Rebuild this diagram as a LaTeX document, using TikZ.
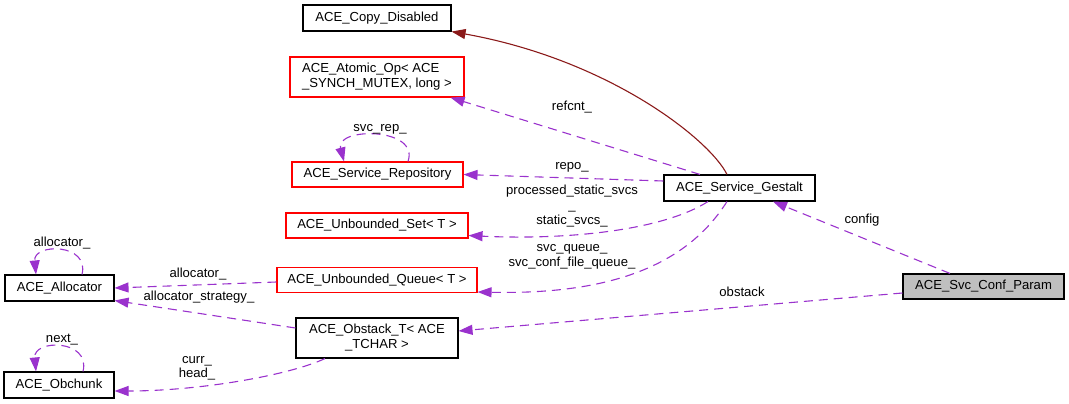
\documentclass[tikz,border=0pt]{standalone}
\usepackage{fontspec}
\setmainfont{Liberation Sans}
\usetikzlibrary{arrows.meta}
\definecolor{edgep}{HTML}{9A32CD}
\definecolor{inhc}{HTML}{8B1A1A}
\definecolor{grayfill}{HTML}{BFBFBF}
\begin{document}
\begin{tikzpicture}[x=1pt,y=-1pt,
  font=\fontsize{13.1}{15}\selectfont,
  box/.style={draw=black, line width=1.1pt, inner sep=0pt, minimum height=26pt, fill=white},
  redbox/.style={box, draw=red},
  use/.style={draw=edgep, line width=1.1pt, dash pattern=on 9pt off 6pt, -{Triangle[length=14pt,width=10pt]}},
  inh/.style={draw=inhc, line width=1.1pt, -{Triangle[length=14pt,width=10pt]}},
  lbl/.style={inner sep=0pt, align=center, font=\fontsize{13.1}{14.5}\selectfont},
]
\useasboundingbox (0,0) rectangle (1069,404);

% nodes
\node[box, minimum width=148pt] (copy) at (377,18) {ACE\_Copy\_Disabled};
\node[redbox, minimum width=174pt, minimum height=40pt, align=left] (atomic) at (377,77) {ACE\_Atomic\_Op< ACE\\\_SYNCH\_MUTEX, long >};
\node[redbox, minimum width=171pt, minimum height=25pt] (repo) at (377.5,174.5) {ACE\_Service\_Repository};
\node[redbox, minimum width=182pt, minimum height=25pt] (set) at (377,225.5) {ACE\_Unbounded\_Set< T >};
\node[redbox, minimum width=200pt, minimum height=25pt] (queue) at (377,280) {ACE\_Unbounded\_Queue< T >};
\node[box, minimum width=162pt, minimum height=40pt, align=center] (obstack) at (377,338) {ACE\_Obstack\_T< ACE\\\_TCHAR >};
\node[box, minimum width=109pt] (alloc) at (59.5,288) {ACE\_Allocator};
\node[box, minimum width=110pt] (obchunk) at (59,385) {ACE\_Obchunk};
\node[box, minimum width=151pt] (gestalt) at (739.5,188) {ACE\_Service\_Gestalt};
\node[box, fill=grayfill, minimum width=161pt, minimum height=25pt] (param) at (983.5,286.5) {ACE\_Svc\_Conf\_Param};

% inheritance
\draw[inh] ([xshift=-12.5pt]gestalt.north) .. controls (710,140) and (610,60) .. (copy.south east);

% usage edges
\draw[use] ([xshift=-39.5pt]gestalt.north) -- ([xshift=-14pt]atomic.south east);
\draw[use] ([yshift=7pt]gestalt.west) -- (repo.east);
\draw[use] ([xshift=-31.5pt]gestalt.south) .. controls (660,232) and (560,240) .. ([yshift=-10pt]set.east);
\draw[use] ([xshift=-12.5pt]gestalt.south) .. controls (690,260) and (620,295) .. ([yshift=-12pt]queue.east);
\draw[use] ([xshift=-33.5pt]param.north) -- ([xshift=33.5pt]gestalt.south);
\draw[use] ([yshift=-6.5pt]param.west) -- ([yshift=7pt]obstack.east);
\draw[use] ([yshift=-2pt]queue.west) -- (alloc.east);
\draw[use] ([yshift=10pt]obstack.west) -- ([yshift=1pt]alloc.south east);
\draw[use] ([xshift=-52pt]obstack.south) .. controls (290,375) and (200,391) .. ([yshift=-6pt]obchunk.east);

% self loops
\draw[use] ([xshift=30.5pt]repo.north) .. controls (420,127) and (335,127) .. ([xshift=-33.5pt]repo.north);
\draw[use] ([xshift=22.5pt]alloc.north) .. controls (90,243) and (33,243) .. ([xshift=-23.5pt]alloc.north);
\draw[use] ([xshift=24pt]obchunk.north) .. controls (91,339) and (33,339) .. ([xshift=-23pt]obchunk.north);

% labels
\node[lbl] (lsvcrep) at (380,129) {svc\_rep\_};
\node[lbl] (lalloc1) at (62,243) {allocator\_};
\node[lbl] (lnext) at (62,340) {next\_};
\node[lbl] (lrefcnt) at (572,107) {refcnt\_};
\node[lbl] (lrepo) at (572,167) {repo\_};
\node[lbl, font=\fontsize{13.1}{15}\selectfont] (lstatic) at (572,206) {processed\_static\_svcs\\\_\\static\_svcs\_};
\node[lbl] (lqueue) at (572,257) {svc\_queue\_\\svc\_conf\_file\_queue\_};
\node[lbl] (lconfig) at (862,220) {config};
\node[lbl] (lobstack) at (742,292) {obstack};
\node[lbl] (lalloc2) at (198,274) {allocator\_};
\node[lbl] (lstrat) at (199,297) {allocator\_strategy\_};
\node[lbl] (lcurr) at (197,368.5) {curr\_\\head\_};
\end{tikzpicture}
\end{document}
